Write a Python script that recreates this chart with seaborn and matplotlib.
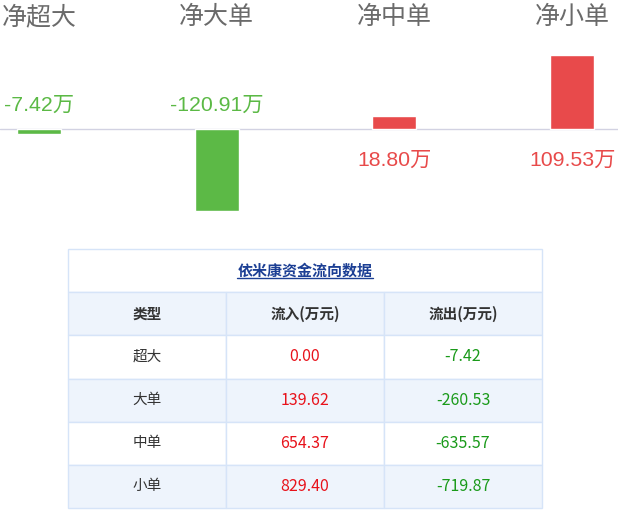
import numpy as np
import pandas as pd
import matplotlib
matplotlib.use("Agg")
import matplotlib.pyplot as plt
from matplotlib.patches import Rectangle
import seaborn as sns

# net flow by order size (万)
categories = ["净超大", "净大单", "净中单", "净小单"]
net_values = [-7.42, -120.91, 18.80, 109.53]

# table data
table_title = "依米康资金流向数据"
table_header = ["类型", "流入(万元)", "流出(万元)"]
row_types = ["超大", "大单", "中单", "小单"]
inflow = [0.00, 139.62, 654.37, 829.40]
outflow = [-7.42, -260.53, -635.57, -719.87]

sns.set_theme(style="white")
plt.rcParams['font.family'] = ['Noto Sans CJK SC', 'DejaVu Sans']

RED_BAR, GREEN_BAR = "#e84a4b", "#5cb946"
RED_TXT, GREEN_TXT = "#e8121b", "#1a9a1a"
BORDER, ALT = "#d6e4f8", "#eef4fc"

W, H = 618, 511
fig = plt.figure(figsize=(W / 100, H / 100), dpi=100)

# ---- bar chart ----
ax = fig.add_axes([0, 1 - 230 / H, 1, 230 / H])
df = pd.DataFrame({"cat": categories, "val": net_values})
colors = [RED_BAR if v >= 0 else GREEN_BAR for v in net_values]
sns.barplot(data=df, x="cat", y="val", hue="cat", palette=colors,
            width=0.248, saturation=1, legend=False, ax=ax)
ax.axis("off")
step = 177.7  # px between categories
ax.set_xlim(-39 / step, (W - 39) / step)
upp = 1 / 0.677  # units per pixel
ax.set_ylim(-101 * upp, 129 * upp)
ax.axhline(0, color="#d2d2e2", lw=1, zorder=0)

tr = ax.get_xaxis_transform()
for i, (c, v) in enumerate(zip(categories, net_values)):
    ax.text(i, 1 - 17 / 230, c, transform=tr, ha="center", va="center",
            fontsize=18, color="#6a6a6a")
    if v < 0:
        ypos, col = 1 - 105 / 230, "#5bb945"
    else:
        ypos, col = 1 - 160 / 230, "#e84a4a"
    ax.text(i, ypos, f"{v:.2f}万", transform=tr, ha="center", va="center",
            fontsize=15.3, color=col, family=['Liberation Sans', 'Noto Sans CJK SC'])

# ---- table ----
tx0, tx1, ty0, ty1 = 68, 542, 249, 508
tax = fig.add_axes([tx0 / W, 1 - ty1 / H, (tx1 - tx0) / W, (ty1 - ty0) / H])
tax.set_xlim(0, tx1 - tx0)
tax.set_ylim(ty1 - ty0, 0)
tax.axis("off")

rh = (ty1 - ty0) / 6
cw = (tx1 - tx0) / 3
tw = tx1 - tx0

# title row
tax.add_patch(Rectangle((0, 0), tw, rh, facecolor="white", edgecolor=BORDER,
                        lw=1, clip_on=False))
tax.text(tw / 2, rh / 2, table_title, ha="center", va="center", fontsize=10.8,
         fontweight="bold", color="#1c3f94")
tax.plot([tw / 2 - 68, tw / 2 + 68], [rh / 2 + 7, rh / 2 + 7], color="#1c3f94", lw=1)

# header + rows
rows = [table_header] + [[t, f"{a:.2f}", f"{b:.2f}"] for t, a, b in zip(row_types, inflow, outflow)]
for r, row in enumerate(rows):
    y = rh * (r + 1)
    fill = ALT if r % 2 == 0 else "white"
    for c, txt in enumerate(row):
        tax.add_patch(Rectangle((c * cw, y), cw, rh, facecolor=fill, edgecolor=BORDER,
                                lw=1, clip_on=False))
        size = 10.5
        if r == 0:
            col, wt = "#333333", "bold"
        elif c == 0:
            col, wt = "#333333", "normal"
        elif c == 1:
            col, wt, size = RED_TXT, "normal", 11.5
        else:
            col, wt, size = GREEN_TXT, "normal", 11.5
        tax.text(c * cw + cw / 2, y + rh / 2, txt, ha="center", va="center",
                 fontsize=size, color=col, fontweight=wt)

fig.savefig("out.png", dpi=100)
